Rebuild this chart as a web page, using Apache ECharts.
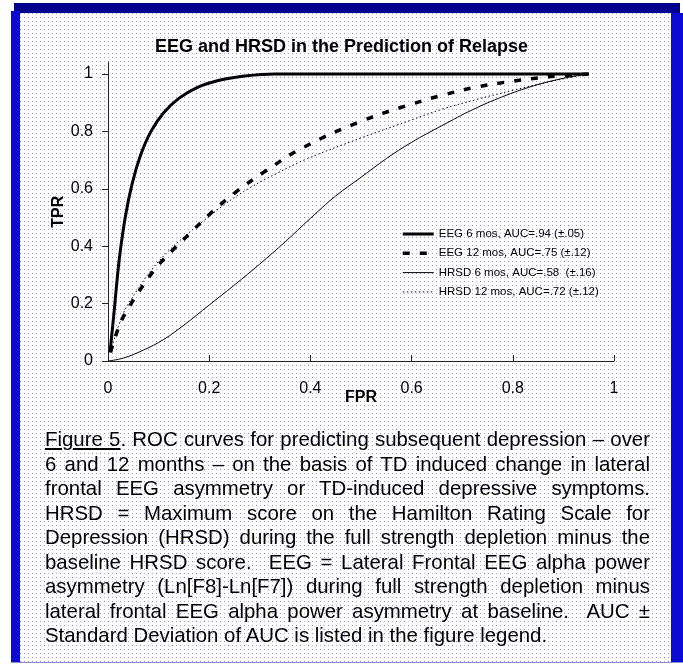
<!DOCTYPE html>
<html>
<head>
<meta charset="utf-8">
<script src="https://cdn.jsdelivr.net/npm/echarts@6/dist/echarts.min.js"></script>
<style>
  html, body { margin: 0; padding: 0; background: #fff; }
  #wrap { position: relative; width: 683px; height: 664px; overflow: hidden; background: #fff; }
  #inner { position: absolute; left: 20px; top: 13px; width: 651px; height: 649px;
    background-color: #fff;
    background-image: url("data:image/svg+xml;utf8,<svg xmlns='http://www.w3.org/2000/svg' width='8' height='8' shape-rendering='crispEdges'><rect x='0' y='0' width='1' height='1' fill='%238080ee'/><rect x='4' y='0' width='1' height='1' fill='%23b0b0f4'/><rect x='0' y='4' width='1' height='1' fill='%23b0b0f4'/><rect x='4' y='4' width='1' height='1' fill='%238080ee'/></svg>");
    background-size: 8px 8px; }
  #topband { position: absolute; left: 14px; top: 3px; width: 666px; height: 10px; background: #00008f; }
  #leftband { position: absolute; left: 11px; top: 11px; width: 9px; height: 651px; background: #0a0ad2; }
  #rightband { position: absolute; left: 671px; top: 13px; width: 12px; height: 649px; background: #0a0ad2; }
  #bottomline { position: absolute; left: 11px; top: 662px; width: 672px; height: 1px; background: #8a8ac8; }
  #chart { position: absolute; left: 0; top: 0; width: 683px; height: 664px; }
  #cap { position: absolute; left: 45px; top: 427px; width: 605px; font-family: 'Liberation Sans', Arial, sans-serif;
    font-size: 20.4px; line-height: 24.5px; color: #000; }
  #cap div { white-space: nowrap; text-align: justify; text-align-last: justify; }
  #cap div.last { text-align: left; text-align-last: left; }
</style>
</head>
<body>
<div id="wrap">
  <div id="inner"></div>
  <div id="topband"></div>
  <div id="leftband"></div>
  <div id="rightband"></div>
  <div id="bottomline"></div>
  <div id="chart"></div>
  <div id="cap"></div>
</div>
<script>
// ---- data ----
const titleText = 'EEG and HRSD in the Prediction of Relapse';
const seriesNames = ['EEG 6 mos, AUC=.94 (\u00b1.05)', 'EEG 12 mos, AUC=.75 (\u00b1.12)', 'HRSD 6 mos, AUC=.58  (\u00b1.16)', 'HRSD 12 mos, AUC=.72 (\u00b1.12)'];
const tickValues = [0, 0.2, 0.4, 0.6, 0.8, 1];

const eeg6Fpr = [0.004, 0.012, 0.022, 0.034, 0.048, 0.065, 0.085, 0.11, 0.14, 0.175, 0.22, 0.27, 0.33, 0.5, 0.7, 0.95];
const eeg6Tpr = [0.03, 0.17, 0.35, 0.5, 0.62, 0.72, 0.8, 0.865, 0.915, 0.952, 0.978, 0.993, 1.0, 1.0, 1.0, 1.0];

const eeg12Fpr = [0.005, 0.024, 0.044, 0.07, 0.1, 0.13, 0.165, 0.2, 0.25, 0.31, 0.387, 0.5, 0.6, 0.665, 0.73, 0.8, 0.87, 0.95];
const eeg12Tpr = [0.03, 0.13, 0.195, 0.265, 0.335, 0.39, 0.45, 0.51, 0.585, 0.66, 0.745, 0.835, 0.895, 0.928, 0.955, 0.975, 0.99, 1.0];

const hrsd6Fpr = [0, 0.03, 0.07, 0.11, 0.15, 0.2, 0.25, 0.3, 0.35, 0.4, 0.45, 0.5, 0.55, 0.6, 0.66, 0.72, 0.78, 0.84, 0.9, 0.95];
const hrsd6Tpr = [0, 0.01, 0.038, 0.075, 0.125, 0.195, 0.265, 0.338, 0.415, 0.497, 0.575, 0.64, 0.705, 0.762, 0.82, 0.875, 0.921, 0.958, 0.985, 1.0];

const hrsd12Fpr = [0.008, 0.03, 0.057, 0.085, 0.115, 0.15, 0.19, 0.23, 0.28, 0.335, 0.394, 0.5, 0.6, 0.66, 0.73, 0.8, 0.87, 0.95];
const hrsd12Tpr = [0.05, 0.165, 0.245, 0.315, 0.375, 0.432, 0.49, 0.545, 0.603, 0.655, 0.705, 0.777, 0.84, 0.877, 0.912, 0.943, 0.972, 1.0];

const captionLines = [
  '<u>Figure 5</u>. ROC curves for predicting subsequent depression \u2013 over',
  '6 and 12 months \u2013 on the basis of TD induced change in lateral',
  'frontal EEG asymmetry or TD-induced depressive symptoms.',
  'HRSD = Maximum score on the Hamilton Rating Scale for',
  'Depression (HRSD) during the full strength depletion minus the',
  'baseline HRSD score.&nbsp; EEG = Lateral Frontal EEG alpha power',
  'asymmetry (Ln[F8]-Ln[F7]) during full strength depletion minus',
  'lateral frontal EEG alpha power asymmetry at baseline.&nbsp; AUC \u00b1',
  'Standard Deviation of AUC is listed in the figure legend.'
];

// ---- caption ----
const cap = document.getElementById('cap');
captionLines.forEach((t, i) => {
  const d = document.createElement('div');
  if (i === captionLines.length - 1) d.className = 'last';
  d.innerHTML = t;
  cap.appendChild(d);
});

// ---- chart ----
const zip = (xs, ys) => xs.map((x, i) => [x, ys[i]]);
const font = "'Liberation Sans', Arial, sans-serif";
const axisColor = '#222';
const styles = [
  { width: 3, type: 'solid' },
  { width: 3.5, type: [7, 10] },
  { width: 1, type: 'solid' },
  { width: 1, type: [1.5, 2.5] }
];
const xsList = [eeg6Fpr, eeg12Fpr, hrsd6Fpr, hrsd12Fpr];
const ysList = [eeg6Tpr, eeg12Tpr, hrsd6Tpr, hrsd12Tpr];

const chart = echarts.init(document.getElementById('chart'), null, { renderer: 'canvas' });
chart.setOption({
  backgroundColor: 'transparent',
  animation: false,
  title: {
    text: titleText, left: 'center', top: 33,
    textStyle: { fontFamily: font, fontSize: 18, fontWeight: 'bold', color: '#000' }
  },
  legend: {
    orient: 'vertical', left: 401, top: 228, padding: 0,
    itemWidth: 31, itemHeight: 11, itemGap: 7.3,
    itemStyle: { opacity: 0 },
    textStyle: { fontFamily: font, fontSize: 11.5, color: '#000' },
    data: seriesNames.map((n, i) => ({
      name: n,
      itemStyle: { opacity: 0 },
      lineStyle: { color: '#000', width: styles[i].width, type: styles[i].type }
    }))
  },
  grid: { left: 108, right: 69, top: 62.5, bottom: 303, containLabel: false },
  xAxis: {
    type: 'value', min: 0, max: 1, interval: 0.2,
    name: 'FPR', nameLocation: 'middle', nameGap: 29, nameMoveOverlap: false,
    nameTextStyle: { fontFamily: font, fontSize: 16, fontWeight: 'bold', color: '#000' },
    axisLine: { show: true, lineStyle: { color: axisColor, width: 1 } },
    axisTick: { show: true, inside: true, length: 6, lineStyle: { color: axisColor } },
    axisLabel: { margin: 20, fontFamily: font, fontSize: 16, color: '#000', formatter: v => String(+v.toFixed(1)) },
    splitLine: { show: false }
  },
  yAxis: {
    type: 'value', min: 0, max: 1.04,
    name: 'TPR', nameLocation: 'middle', nameGap: 41, nameRotate: 90, nameMoveOverlap: false,
    nameTextStyle: { fontFamily: font, fontSize: 16, fontWeight: 'bold', color: '#000' },
    axisLine: { show: true, lineStyle: { color: axisColor, width: 1 } },
    axisTick: { show: true, inside: false, length: 6, lineStyle: { color: axisColor }, customValues: tickValues },
    axisLabel: { margin: 15, fontFamily: font, fontSize: 16, color: '#000', customValues: tickValues, formatter: v => String(+(+v).toFixed(1)) },
    splitLine: { show: false }
  },
  series: seriesNames.map((n, i) => ({
    name: n, type: 'line', data: zip(xsList[i], ysList[i]), symbol: 'none', smooth: 0.4,
    lineStyle: { color: '#000', width: styles[i].width, type: styles[i].type },
    itemStyle: { color: '#000' }, z: 4 - i
  }))
});
</script>
</body>
</html>
